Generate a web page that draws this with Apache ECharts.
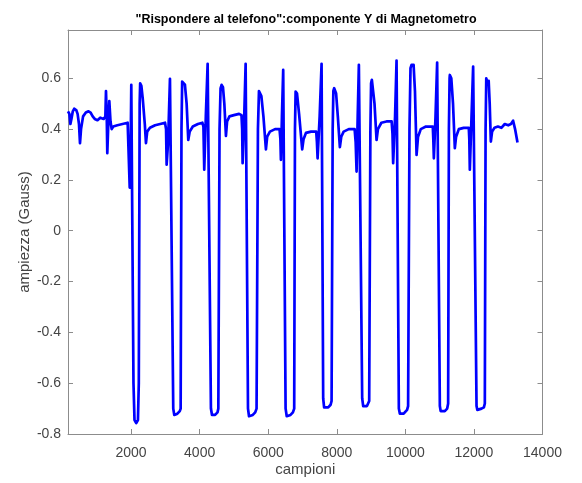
<!DOCTYPE html>
<html>
<head>
<meta charset="utf-8">
<script src="https://cdn.jsdelivr.net/npm/echarts@6/dist/echarts.min.js"></script>
<style>
html,body{margin:0;padding:0;background:#fff;}
#c{width:582px;height:483px;}
</style>
</head>
<body>
<div id="c"></div>
<script>
var titleText = '"Rispondere al telefono":componente Y di Magnetometro';
var xName = 'campioni';
var yName = 'ampiezza (Gauss)';
var xTicks = [2000, 4000, 6000, 8000, 10000, 12000, 14000];
var yTicks = [-0.8, -0.6, -0.4, -0.2, 0, 0.2, 0.4, 0.6];

var samples = [
  160,200,230,260,300,340,400,440,480,510,540,600,680,760,820,880,940,980,1020,1060,1100,1150,1200,1250,1268,1290,1306,1330,1365,1400,1434,1480,1600,1750,1900,1940,1960,1985,2006,
  2070,2100,2150,2200,2225,2250,2265,2300,2340,2400,2434,2470,2550,2700,2850,2990,3020,3037,3080,3134,
  3230,3260,3350,3420,3446,3470,3490,3530,3570,3620,3668,3710,3800,3950,4080,4110,4134,4180,4233,
  4329,4360,4450,4520,4545,4580,4610,4640,4680,4720,4767,4800,4870,5000,5150,5220,5240,5253,5300,5341,
  5410,5440,5550,5620,5660,5700,5730,5758,5800,5860,5933,5970,6050,6200,6330,6355,6370,6400,6437,
  6507,6540,6650,6720,6758,6780,6799,6840,6900,6991,7030,7100,7250,7400,7420,7440,7500,7556,
  7603,7630,7750,7820,7848,7880,7900,7924,7980,8030,8090,8130,8200,8350,8520,8550,8577,8610,8644,
  8741,8770,8880,8945,8980,9000,9023,9060,9100,9160,9200,9300,9450,9600,9625,9644,9700,9743,
  9810,9840,9950,10050,10080,10120,10150,10180,10240,10280,10327,10370,10450,10600,10800,10815,10831,10880,10927,
  11006,11030,11150,11220,11248,11270,11290,11297,11340,11390,11443,11480,11560,11700,11850,11865,11880,11930,11977,
  12076,12100,12220,12290,12318,12340,12360,12367,12400,12430,12460,12493,12530,12600,12700,12800,12900,12950,13000,13080,13143,13200,13271
];
var values = [
  0.47,0.46,0.42,0.44,0.47,0.48,0.475,0.46,0.42,0.345,0.40,0.45,0.465,0.47,0.465,0.45,0.44,0.445,0.435,0.44,0.445,0.45,0.44,0.45,0.55,0.45,0.305,0.40,0.51,0.43,0.40,0.41,0.415,0.42,0.425,0.42,0.17,0.30,0.574,
  -0.60,-0.745,-0.757,-0.745,-0.60,0.50,0.58,0.57,0.52,0.42,0.345,0.39,0.405,0.415,0.42,0.425,0.40,0.26,0.35,0.598,
  -0.70,-0.725,-0.72,-0.71,-0.70,0.40,0.587,0.59,0.575,0.50,0.357,0.39,0.41,0.42,0.425,0.41,0.24,0.45,0.657,
  -0.70,-0.725,-0.725,-0.715,-0.70,0.40,0.56,0.574,0.565,0.50,0.373,0.43,0.45,0.455,0.46,0.455,0.40,0.266,0.45,0.657,
  -0.70,-0.73,-0.725,-0.715,-0.70,0.40,0.55,0.554,0.53,0.45,0.32,0.37,0.39,0.40,0.40,0.36,0.279,0.45,0.633,
  -0.70,-0.73,-0.725,-0.715,-0.70,0.40,0.548,0.54,0.46,0.32,0.36,0.385,0.39,0.39,0.35,0.285,0.45,0.657,
  -0.66,-0.695,-0.695,-0.685,-0.67,0.40,0.55,0.561,0.54,0.45,0.329,0.37,0.39,0.40,0.40,0.35,0.233,0.45,0.653,
  -0.66,-0.69,-0.69,-0.67,0.40,0.58,0.594,0.59,0.50,0.357,0.40,0.425,0.43,0.43,0.38,0.266,0.45,0.67,
  -0.70,-0.72,-0.72,-0.705,-0.69,0.40,0.64,0.653,0.653,0.55,0.298,0.37,0.40,0.41,0.41,0.36,0.285,0.45,0.662,
  -0.69,-0.71,-0.71,-0.70,-0.68,0.40,0.60,0.613,0.60,0.50,0.325,0.37,0.40,0.405,0.405,0.36,0.24,0.45,0.646,
  -0.69,-0.705,-0.70,-0.695,-0.68,0.40,0.60,0.607,0.58,0.59,0.50,0.351,0.39,0.405,0.41,0.405,0.42,0.425,0.415,0.42,0.433,0.40,0.347
];

var seriesData = samples.map(function (s, i) { return [s, values[i]]; });

var font = '"Liberation Sans", Arial, Helvetica, sans-serif';
var axisColor = '#8c8c8c';
var labelColor = '#444444';

function baseAxis(extra) {
  var a = {
    type: 'value',
    axisLine: { show: true, onZero: false, lineStyle: { color: axisColor, width: 1 } },
    splitLine: { show: false }
  };
  for (var k in extra) a[k] = extra[k];
  return a;
}
function ticks(vals) {
  return { show: true, inside: true, length: 5, lineStyle: { color: axisColor }, customValues: vals };
}

var chart = echarts.init(document.getElementById('c'), null, { renderer: 'canvas' });
chart.setOption({
  animation: false,
  backgroundColor: '#ffffff',
  title: {
    text: titleText,
    left: 301,
    textAlign: 'center',
    top: 8,
    textStyle: { fontFamily: font, fontSize: 12.5, fontWeight: 'bold', color: '#000' }
  },
  grid: { left: 68, right: 39.5, top: 30, bottom: 49, containLabel: false },
  xAxis: [
    baseAxis({
      position: 'bottom', min: 160, max: 14000,
      name: xName, nameLocation: 'middle', nameGap: 28, nameMoveOverlap: false,
      nameTextStyle: { fontFamily: font, fontSize: 15, color: labelColor },
      axisTick: ticks(xTicks),
      axisLabel: { show: true, customValues: xTicks, fontFamily: font, fontSize: 14, color: labelColor, margin: 12,
        formatter: function (v) { return String(v); } }
    }),
    baseAxis({
      position: 'top', min: 160, max: 14000,
      axisTick: ticks(xTicks),
      axisLabel: { show: false }
    })
  ],
  yAxis: [
    baseAxis({
      position: 'left', min: -0.8, max: 0.79,
      name: yName, nameLocation: 'middle', nameGap: 36, nameRotate: 90, nameMoveOverlap: false,
      nameTextStyle: { fontFamily: font, fontSize: 15, color: labelColor },
      axisTick: ticks(yTicks),
      axisLabel: { show: true, customValues: yTicks, fontFamily: font, fontSize: 14, color: labelColor, margin: 7,
        formatter: function (v) { return String(Math.round(v * 10) / 10); } }
    }),
    baseAxis({
      position: 'right', min: -0.8, max: 0.79,
      axisTick: ticks(yTicks),
      axisLabel: { show: false }
    })
  ],
  series: [{
    type: 'line',
    xAxisIndex: 0,
    yAxisIndex: 0,
    data: seriesData,
    showSymbol: false,
    symbol: 'none',
    lineStyle: { color: '#0000ff', width: 2.7, join: 'round' },
    clip: true
  }]
});
</script>
</body>
</html>
